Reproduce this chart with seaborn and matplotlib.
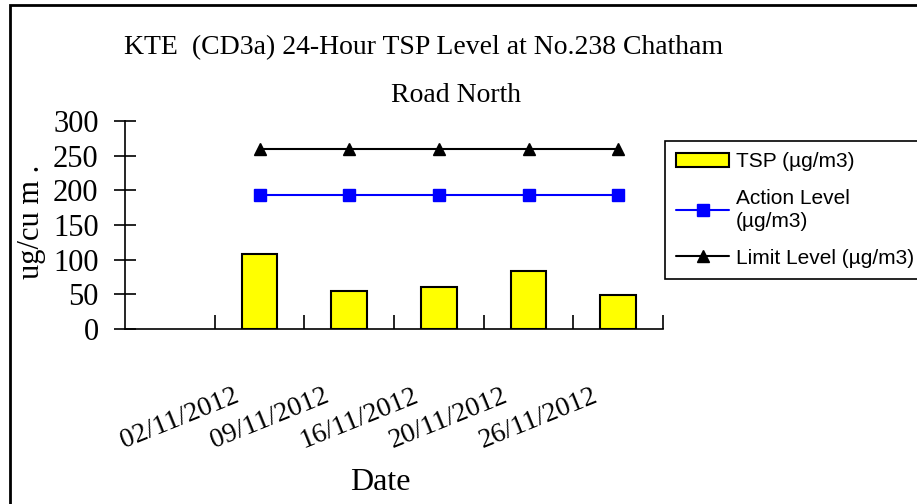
import matplotlib
matplotlib.use('Agg')
import matplotlib.pyplot as plt
import matplotlib.transforms as mtransforms
from matplotlib.patches import Rectangle
from matplotlib.lines import Line2D
import seaborn as sns
import numpy as np
import pandas as pd

dates = ['', '02/11/2012', '09/11/2012', '16/11/2012', '20/11/2012', '26/11/2012']
tsp = [np.nan, 108, 55, 60, 83, 49]
action_level = [np.nan, 193, 193, 193, 193, 193]
limit_level = [np.nan, 260, 260, 260, 260, 260]
yticks = [0, 50, 100, 150, 200, 250, 300]

sns.set_theme(style='white')
plt.rcParams['font.family'] = ['Liberation Serif', 'DejaVu Serif']
for key in ['text.color', 'axes.labelcolor', 'xtick.color', 'ytick.color']:
    plt.rcParams[key] = 'black'

fig = plt.figure(figsize=(9.17, 5.04), dpi=100)
ax = fig.add_axes([125 / 917, 1 - 329 / 504, (663 - 125) / 917, (329 - 121) / 504])

df = pd.DataFrame({'Date': dates, 'TSP': tsp})
sns.barplot(data=df, x='Date', y='TSP', order=dates, color='#FFFF00', saturation=1,
            width=0.4, edgecolor='black', linewidth=1.5, ax=ax)

pos = np.arange(len(dates))
ax.plot(pos, action_level, color='#0000FF', lw=1.5, marker='s', ms=8)
ax.plot(pos, limit_level, color='black', lw=1.5, marker='^', ms=9)

ax.set_xlim(-0.5, len(dates) - 0.5)
ax.set_ylim(0, 300)
ax.set_yticks(yticks)
ax.set_yticklabels([str(v) for v in yticks], fontsize=22)
ax.tick_params(axis='y', direction='inout', length=16, width=1.2, color='black', pad=11, left=True)

# date labels, slanted, right end near the bar
ax.set_xticks(pos)
ax.set_xticklabels(dates, fontsize=20, rotation=22, ha='right', va='top')
ax.tick_params(axis='x', length=0, pad=39)
offset = mtransforms.ScaledTranslation(-0.17, 0, fig.dpi_scale_trans)
for lbl in ax.get_xticklabels():
    lbl.set_transform(lbl.get_transform() + offset)
ax.set_xticks(np.arange(0.5, len(dates), 1.0), minor=True)
ax.tick_params(axis='x', which='minor', direction='in', length=10, width=1.2,
               color='black', bottom=True)

for side in ['top', 'right']:
    ax.spines[side].set_visible(False)
for side in ['left', 'bottom']:
    ax.spines[side].set_color('black')
    ax.spines[side].set_linewidth(1.2)

ax.set_xlabel('Date', fontsize=23)
ax.xaxis.set_label_coords((380 - 125) / 538, (329 - 482) / 208)
ax.xaxis.label.set_va('center')
ax.set_ylabel('ug/cu m .', fontsize=22)
ax.yaxis.set_label_coords((31 - 125) / 538, 0.515)
ax.yaxis.label.set_va('center')

fig.text(0.462, 1 - 48 / 504, 'KTE  (CD3a) 24-Hour TSP Level at No.238 Chatham',
         ha='center', va='center', fontsize=20)
fig.text(0.497, 1 - 96 / 504, 'Road North', ha='center', va='center', fontsize=20)

handles = [
    Rectangle((0, 0), 1, 1, facecolor='#FFFF00', edgecolor='black', lw=1.5),
    Line2D([], [], color='#0000FF', lw=1.5, marker='s', ms=8),
    Line2D([], [], color='black', lw=1.5, marker='^', ms=9),
]
leg = fig.legend(handles, ['TSP (µg/m3)', 'Action Level\n(µg/m3)', 'Limit Level (µg/m3)'],
                 loc='upper left', bbox_to_anchor=(665 / 917, 1 - 141 / 504 - 0.01, 0.3, 0.01),
                 mode='expand', prop={'family': 'Liberation Sans', 'size': 15},
                 frameon=True, fancybox=False, edgecolor='black', framealpha=1,
                 handlelength=2.5, handletextpad=0.35, labelspacing=0.85,
                 borderpad=0.55, borderaxespad=0)
leg.get_frame().set_linewidth(1.2)
for t in leg.get_texts():
    t.set_linespacing(1.25)

fig.patches.append(Rectangle((10 / 917, -0.05), 1.1, 1 - 5 / 504 + 0.05,
                             transform=fig.transFigure, fill=False,
                             edgecolor='black', lw=2))

fig.savefig('out.png', dpi=100)
